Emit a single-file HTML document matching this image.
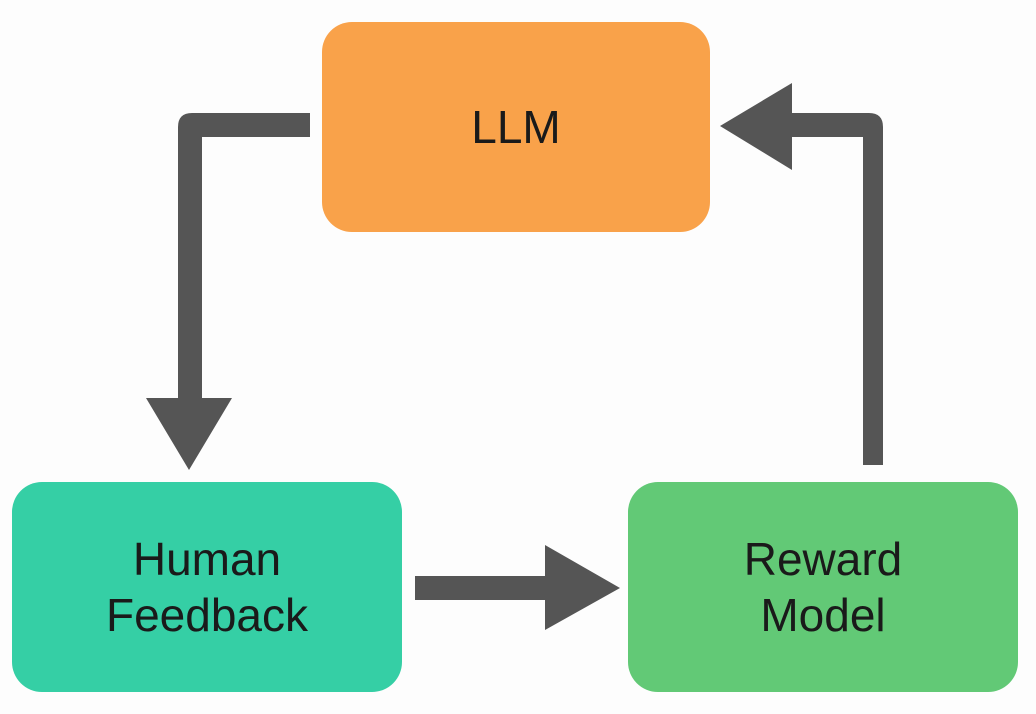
<!DOCTYPE html>
<html><head><style>
body{margin:0;width:1036px;height:714px;background:#fdfdfd;font-family:"Liberation Sans",sans-serif;overflow:hidden;position:relative}
.b{position:absolute;border-radius:30px;display:flex;align-items:center;justify-content:center;text-align:center;color:#1a1a1a;font-size:46px;line-height:56px}
</style></head><body>
<svg width="1036" height="714" style="position:absolute;left:0;top:0">
<g fill="#555555">
<path d="M310 113 H192 Q178 113 178 127 V398 H146 L189 470 L232 398 H202 V137 H310 Z"/>
<path d="M883 465 V127 Q883 113 869 113 H792 V83 L720 126 L792 170 V137 H863 V465 Z"/>
<path d="M415 576 H545 V545 L620 588 L545 630 V600 H415 Z"/>
</g>
</svg>
<div class="b" style="left:322px;top:22px;width:388px;height:210px;background:#f9a24a">LLM</div>
<div class="b" style="left:12px;top:482px;width:390px;height:210px;background:#35cfa5">Human<br>Feedback</div>
<div class="b" style="left:628px;top:482px;width:390px;height:210px;background:#62c976">Reward<br>Model</div>
</body></html>
